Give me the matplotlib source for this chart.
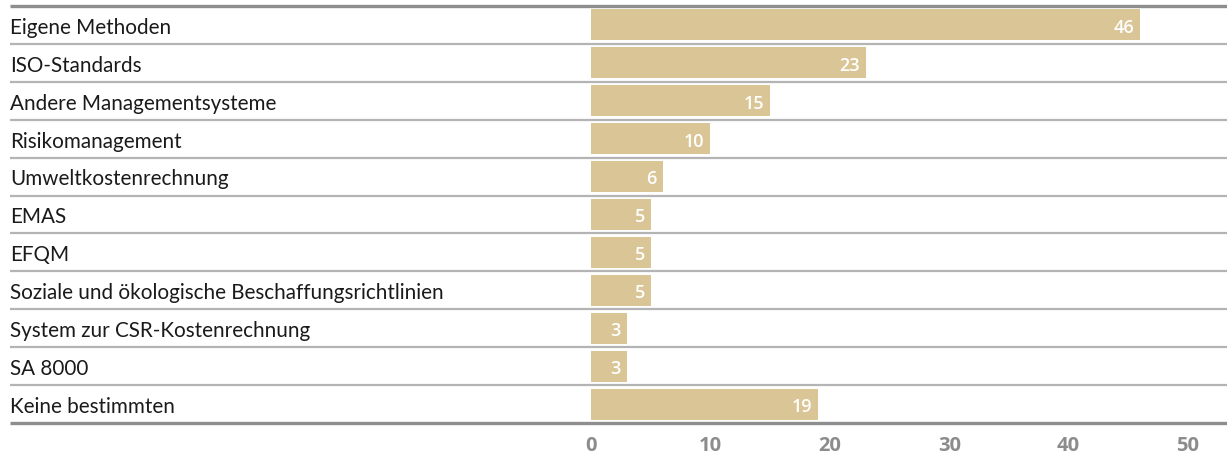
import matplotlib
matplotlib.use("Agg")
import matplotlib.pyplot as plt
from matplotlib.transforms import blended_transform_factory

categories = [
    "Eigene Methoden",
    "ISO-Standards",
    "Andere Managementsysteme",
    "Risikomanagement",
    "Umweltkostenrechnung",
    "EMAS",
    "EFQM",
    "Soziale und ökologische Beschaffungsrichtlinien",
    "System zur CSR-Kostenrechnung",
    "SA 8000",
    "Keine bestimmten",
]
values = [46, 23, 15, 10, 6, 5, 5, 5, 3, 3, 19]
xticks = [0, 10, 20, 30, 40, 50]

W, H = 1227, 456
fig = plt.figure(figsize=(W / 100, H / 100), dpi=100)
x0, x1 = 591, 1188
ytop, ybot = 7, 424
ax = fig.add_axes([x0 / W, 1 - ybot / H, (x1 - x0) / W, (ybot - ytop) / H])

bar_color = "#dac596"
n = len(categories)
pos = list(range(n))
ax.barh(pos, values, height=0.82, color=bar_color, align="center")
ax.set_xlim(0, 50)
ax.set_ylim(n - 0.5, -0.5)

label_font = ["Lato", "DejaVu Sans"]
num_font = ["Open Sans", "DejaVu Sans"]

for i, (c, v) in enumerate(zip(categories, values)):
    ax.text(v - 0.5, i + 0.05, str(v), ha="right", va="center", color="white",
            fontsize=13, fontweight="semibold", family=num_font)

trans = blended_transform_factory(fig.transFigure, ax.transData)
for i, c in enumerate(categories):
    fig.text(10 / W, i + 0.05, c, transform=trans, ha="left", va="center",
             fontsize=14.9, color="#1a1a1a", family=label_font)

# separator lines
lx0, lx1 = 10 / W, 1.0
for b in range(1, n):
    ax.plot([lx0, lx1], [b - 0.5, b - 0.5], transform=trans, color="#b4b4b4",
            lw=1.6, clip_on=False, solid_capstyle="butt")
for b in (-0.5, n - 0.5):
    ax.plot([lx0, lx1], [b, b], transform=trans, color="#8e8e8e",
            lw=2.4, clip_on=False, solid_capstyle="butt")

ax.set_xticks(xticks)
ax.set_xticklabels([str(t) for t in xticks])
ax.set_yticks([])
ax.tick_params(axis="x", length=0, pad=9, labelsize=14.5, labelcolor="#8c8c8c")
for lab in ax.get_xticklabels():
    lab.set_family(num_font)
    lab.set_fontweight("bold")
for s in ax.spines.values():
    s.set_visible(False)

fig.savefig("out.png", dpi=100)
